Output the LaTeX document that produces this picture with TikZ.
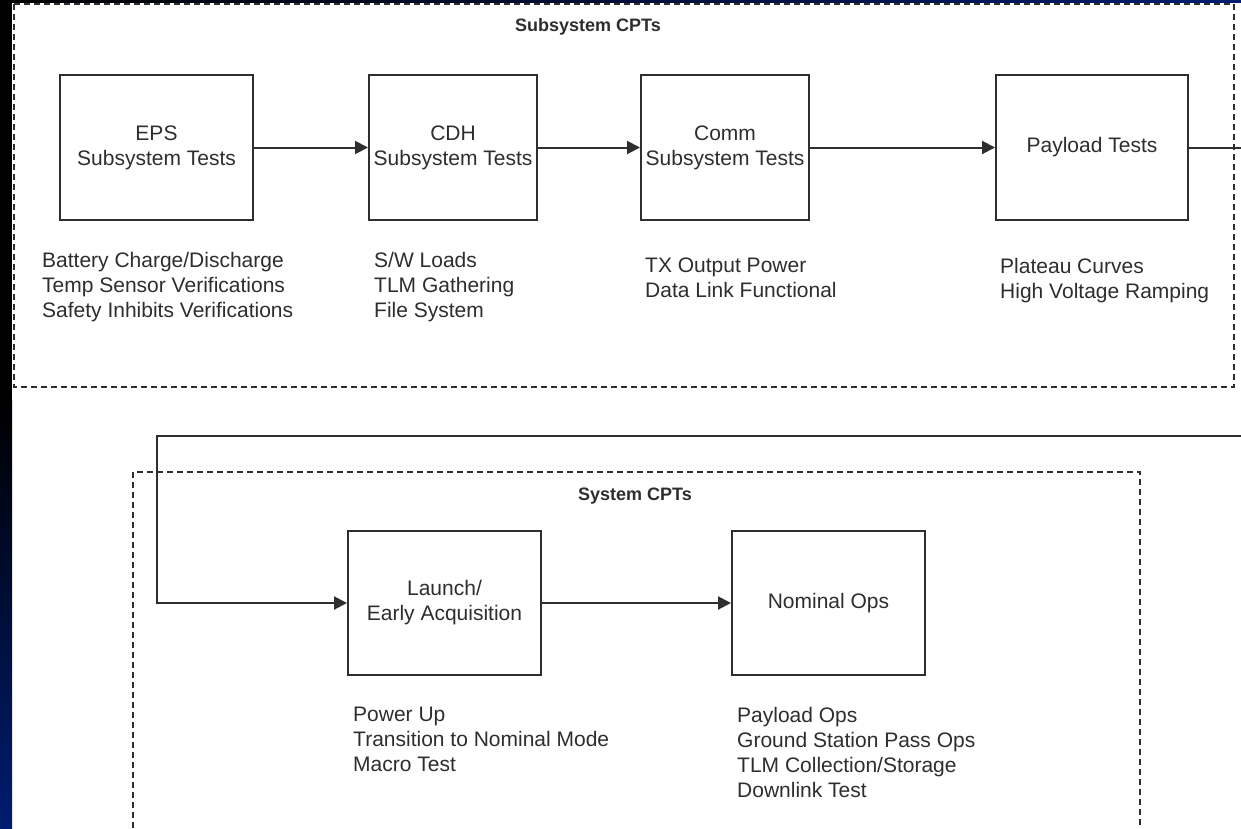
\documentclass[tikz,border=0pt]{standalone}
\usepackage{fontspec}
\setmainfont{Liberation Sans}
\usetikzlibrary{arrows.meta}
\definecolor{ink}{HTML}{2E2E2E}
\definecolor{navy}{RGB}{0,28,112}
\begin{document}
\begin{tikzpicture}[x=1pt,y=-1pt,
  blockbox/.style={draw=ink, line width=2pt, inner sep=0pt, align=center,
    text=ink, font=\fontsize{21}{25}\selectfont},
  desc/.style={anchor=north west, inner sep=0pt, align=left, text=ink,
    font=\fontsize{21}{25}\selectfont},
  grouptitle/.style={inner sep=0pt, text=ink, font=\fontsize{18}{22}\selectfont\bfseries},
  groupframe/.style={draw=ink, line width=2pt, dash pattern=on 6pt off 4pt},
  flow/.style={draw=ink, line width=2pt, -{Triangle[length=13pt,width=13pt]}},
  plain/.style={draw=ink, line width=2pt}]
\useasboundingbox (0,0) rectangle (1241,828);
\fill[white] (0,0) rectangle (1241,828);
% slide background strips
\fill[black] (0,0) rectangle (12,400);
\shade[top color=black, bottom color=navy] (0,400) rectangle (12,828);
\shade[left color=black, right color=navy] (0,0) rectangle (1241,2);

% group frames
\draw[groupframe] (14,4) rectangle (1234,387);
\draw[groupframe] (133,828) -- (133,472) -- (1140,472) -- (1140,828);
\node[grouptitle] (subtitle) at (588,27) {Subsystem CPTs};
\node[grouptitle] (systitle) at (635,496) {System CPTs};

% subsystem blocks
\node[blockbox, minimum width=193pt, minimum height=145pt] (eps) at (156.5,147.5) {EPS\\Subsystem Tests};
\node[blockbox, minimum width=168pt, minimum height=145pt] (cdh) at (453,147.5) {CDH\\Subsystem Tests};
\node[blockbox, minimum width=168pt, minimum height=145pt] (comm) at (725,147.5) {Comm\\Subsystem Tests};
\node[blockbox, minimum width=192pt, minimum height=145pt] (pay) at (1092,147.5) {Payload Tests};

\node[desc] (epsd) at (42,252) {Battery Charge/Discharge\\Temp Sensor Verifications\\Safety Inhibits Verifications};
\node[desc] (cdhd) at (374,252) {S/W Loads\\TLM Gathering\\File System};
\node[desc] (commd) at (645,258) {TX Output Power\\Data Link Functional};
\node[desc] (payd) at (1000,258) {Plateau Curves\\High Voltage Ramping};

% system blocks
\node[blockbox, minimum width=193pt, minimum height=144pt] (launch) at (444.5,603) {Launch/\\Early Acquisition};
\node[blockbox, minimum width=193pt, minimum height=144pt] (nom) at (828.5,603) {Nominal Ops};

\node[desc] (launchd) at (353,707) {Power Up\\Transition to Nominal Mode\\Macro Test};
\node[desc] (nomd) at (737,707) {Payload Ops\\Ground Station Pass Ops\\TLM Collection/Storage\\Downlink Test};

% connectors
\draw[flow] (eps) -- (cdh);
\draw[flow] (cdh) -- (comm);
\draw[flow] (comm) -- (pay);
\coordinate (outR) at (1241,147.5);
\draw[plain] (pay) -- (outR);
\coordinate (inR) at (1241,436);
\coordinate (bend) at (157,436);
\draw[flow] (inR) -- (bend) |- (launch.west);
\draw[flow] (launch) -- (nom);
\end{tikzpicture}
\end{document}
